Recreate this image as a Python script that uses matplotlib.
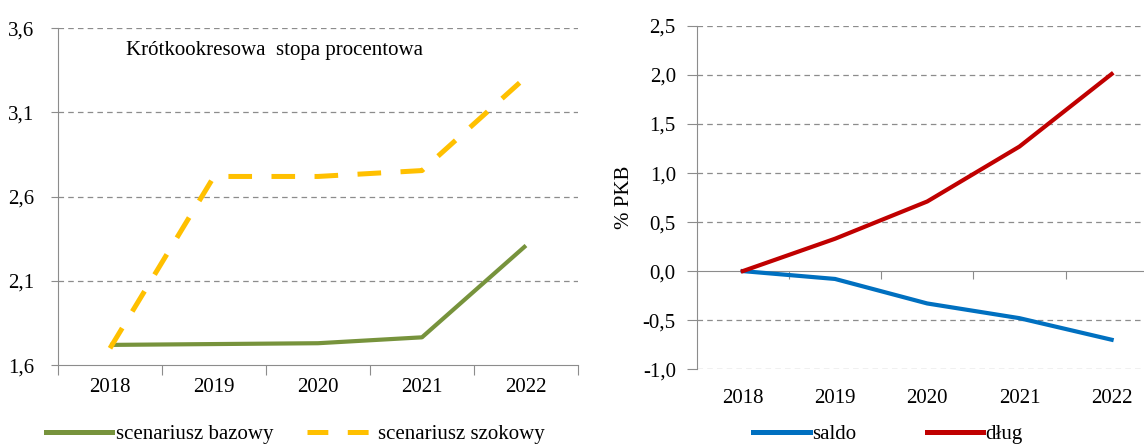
import matplotlib
matplotlib.use("Agg")
import matplotlib.pyplot as plt
from matplotlib.lines import Line2D

plt.rcParams["font.family"] = ["Liberation Serif", "DejaVu Serif"]
plt.rcParams["lines.scale_dashes"] = False

years = ["2018", "2019", "2020", "2021", "2022"]

# left panel: short-term interest rate
bazowy = [1.72, 1.725, 1.73, 1.765, 2.31]
szokowy = [1.70, 2.72, 2.72, 2.755, 3.31]

# right panel: % of GDP
saldo = [0.0, -0.08, -0.33, -0.48, -0.70]
dlug = [0.0, 0.33, 0.71, 1.27, 2.01]

GREEN = "#77933C"
YELLOW = "#FFC000"
BLUE = "#0070C0"
RED = "#C00000"
GRID = "#8C8C8C"
AXIS = "#8C8C8C"
FS = 15

fig = plt.figure(figsize=(11.44, 4.48), dpi=100)
x = list(range(len(years)))


def fmt(v, dec=1):
    return f"{v:.{dec}f}".replace(".", ",")


# ---- left chart ----
ax1 = fig.add_axes([0.0507, 0.185, 0.4545, 0.752])
ax1.plot(x, bazowy, color=GREEN, lw=3.0, solid_capstyle="butt")
ax1.plot(x, szokowy, color=YELLOW, lw=3.6, dashes=(17, 14), dash_capstyle="butt")
ax1.set_xlim(-0.5, 4.5)
ax1.set_ylim(1.6, 3.6)
yt1 = [1.6, 2.1, 2.6, 3.1, 3.6]
ax1.set_yticks(yt1)
ax1.set_yticklabels([fmt(v) for v in yt1], fontsize=FS)
for v in yt1[1:]:
    ax1.axhline(v, color=GRID, lw=0.9, ls=(0, (4, 3)), zorder=0)
ax1.set_xticks([i + 0.5 for i in range(-1, 5)])
ax1.set_xticklabels([])
ax1.set_xticks(x, minor=True)
ax1.set_xticklabels(years, minor=True, fontsize=FS)
ax1.tick_params(axis="x", which="major", length=7, color=AXIS, direction="out")
ax1.tick_params(axis="x", which="minor", length=0, pad=9)
ax1.tick_params(axis="y", length=5, color=AXIS, pad=12)
for s in ["top", "right"]:
    ax1.spines[s].set_visible(False)
for s in ["left", "bottom"]:
    ax1.spines[s].set_color(AXIS)
ax1.text(0.13, 0.935, "Krótkookresowa  stopa procentowa", transform=ax1.transAxes,
         fontsize=FS, ha="left", va="center")

h1 = [Line2D([], [], color=GREEN, lw=3.6),
      Line2D([], [], color=YELLOW, lw=3.6, dashes=(15, 14))]
fig.legend(h1, ["scenariusz bazowy", "scenariusz szokowy"], loc="center",
           bbox_to_anchor=(0.258, 0.03), ncol=2, frameon=False, fontsize=FS,
           handlelength=3.2, handletextpad=0.2, columnspacing=1.6)

# ---- right chart ----
ax2 = fig.add_axes([0.609, 0.176, 0.403, 0.766])
ax2.plot(x, saldo, color=BLUE, lw=3.0)
ax2.plot(x, dlug, color=RED, lw=3.0)
ax2.set_xlim(-0.5, 4.5)
ax2.set_ylim(-1.0, 2.5)
yt2 = [-1.0, -0.5, 0.0, 0.5, 1.0, 1.5, 2.0, 2.5]
ax2.set_yticks(yt2)
ax2.set_yticklabels([fmt(v) for v in yt2], fontsize=FS)
for v in yt2:
    if v != 0:
        ax2.axhline(v, color=GRID, lw=0.9, ls=(0, (4, 3)), zorder=0)
ax2.set_xticks(x)
ax2.set_xticklabels(years, fontsize=FS)
ax2.tick_params(axis="x", length=0, pad=14)
ax2.tick_params(axis="y", length=7, color=AXIS, pad=8)
for s in ["top", "right", "bottom"]:
    ax2.spines[s].set_visible(False)
ax2.spines["left"].set_color(AXIS)
ax2.set_ylabel("% PKB", fontsize=FS, labelpad=6)

sec = ax2.secondary_xaxis(1.0 / 3.5)
sec.set_xticks([i + 0.5 for i in range(-1, 5)])
sec.set_xticklabels([])
sec.tick_params(length=6, color=AXIS, direction="out")
sec.spines["bottom"].set_color(AXIS)

h2 = [Line2D([], [], color=BLUE, lw=3.6), Line2D([], [], color=RED, lw=3.6)]
fig.legend(h2, ["saldo", "dług"], loc="center",
           bbox_to_anchor=(0.776, 0.03), ncol=2, frameon=False, fontsize=FS,
           handlelength=2.7, handletextpad=0.1, columnspacing=3.4)

fig.savefig("out.png", dpi=100)
